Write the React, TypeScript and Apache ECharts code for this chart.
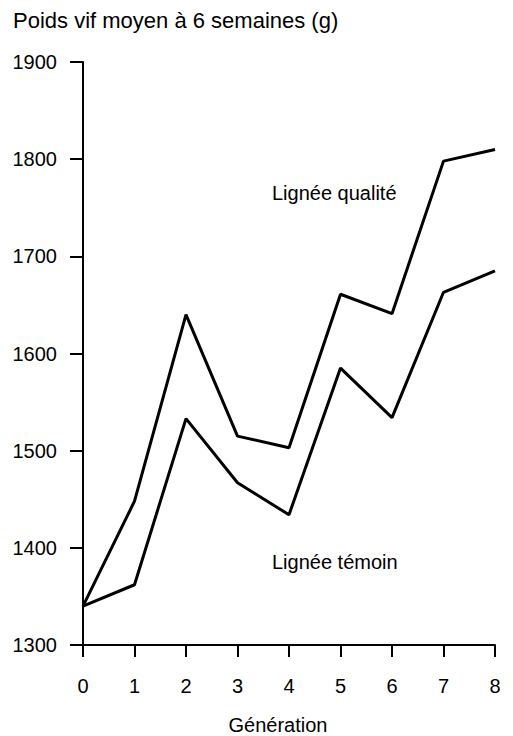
import React, { useEffect, useRef } from "react";
import * as echarts from "echarts";

const generations = ["0", "1", "2", "3", "4", "5", "6", "7", "8"];
const qualite = [1340, 1448, 1640, 1515, 1503, 1661, 1641, 1798, 1810];
const temoin = [1340, 1362, 1533, 1467, 1434, 1585, 1534, 1663, 1685];
const yTitle = "Poids vif moyen à 6 semaines (g)";
const xTitle = "Génération";
const labelQualite = "Lignée qualité";
const labelTemoin = "Lignée témoin";

const FONT = "'Liberation Sans', Arial, Helvetica, sans-serif";

export default function App() {
  const ref = useRef<HTMLDivElement>(null);
  useEffect(() => {
    if (!ref.current) return;
    const chart = echarts.init(ref.current, null, { renderer: "svg" });
    const axisStyle = { color: "#000", width: 2 };
    chart.setOption({
      animation: false,
      backgroundColor: "#fff",
      grid: { left: 83, right: 18, top: 62, bottom: 91 },
      xAxis: {
        type: "category",
        data: generations,
        boundaryGap: false,
        axisLine: { show: true, lineStyle: axisStyle },
        axisTick: { show: true, inside: false, length: 12, lineStyle: axisStyle },
        axisLabel: { color: "#000", fontSize: 20, fontFamily: FONT, margin: 31 },
        splitLine: { show: false },
      },
      yAxis: {
        type: "value",
        min: 1300,
        max: 1900,
        interval: 100,
        axisLine: { show: true, lineStyle: axisStyle },
        axisTick: { show: true, inside: false, length: 13, lineStyle: axisStyle },
        axisLabel: {
          color: "#000",
          fontSize: 20,
          fontFamily: FONT,
          margin: 26,
          formatter: (v: number) => String(v),
        },
        splitLine: { show: false },
      },
      series: [
        {
          type: "line",
          name: labelQualite,
          data: qualite,
          symbol: "none",
          lineStyle: { color: "#000", width: 3 },
        },
        {
          type: "line",
          name: labelTemoin,
          data: temoin,
          symbol: "none",
          lineStyle: { color: "#000", width: 3 },
        },
      ],
      graphic: [
        {
          type: "text",
          x: 13,
          y: 20,
          style: { text: yTitle, font: `22px ${FONT}`, fill: "#000", verticalAlign: "middle" },
        },
        {
          type: "text",
          x: 272,
          y: 193,
          style: { text: labelQualite, font: `20px ${FONT}`, fill: "#000", verticalAlign: "middle" },
        },
        {
          type: "text",
          x: 272,
          y: 562,
          style: { text: labelTemoin, font: `20px ${FONT}`, fill: "#000", verticalAlign: "middle" },
        },
        {
          type: "text",
          x: 278,
          y: 725,
          style: { text: xTitle, font: `20px ${FONT}`, fill: "#000", align: "center", verticalAlign: "middle" },
        },
      ],
    });
    return () => chart.dispose();
  }, []);
  return (
    <div
      ref={ref}
      style={{ position: "fixed", left: 0, top: 0, width: 513, height: 736, background: "#fff" }}
    />
  );
}
